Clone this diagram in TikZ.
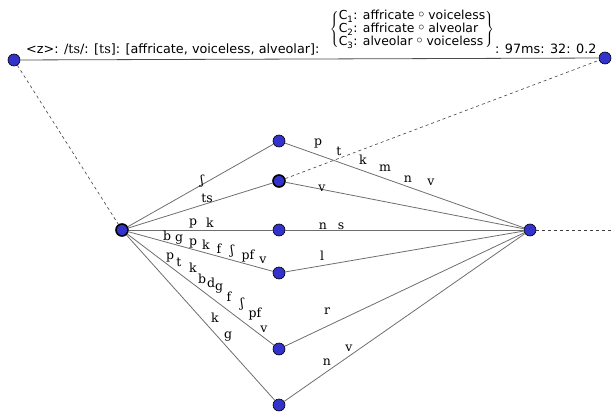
\documentclass[tikz,border=0pt]{standalone}
\usepackage{fontspec}
\setmainfont{DejaVu Sans}
\newfontfamily\lab{DejaVu Serif}
\definecolor{nodeblue}{RGB}{51,51,204}
\definecolor{edgegray}{RGB}{110,110,110}
\newcommand{\cmp}{\raisebox{2.5pt}{$\circ$}}
\begin{document}
\begin{tikzpicture}[x=1pt,y=-1pt,
  vtx/.style={circle,draw=black,fill=nodeblue,inner sep=0pt,minimum size=12pt,line width=0.6pt},
  heavy/.style={line width=1.6pt},
  edge/.style={draw=edgegray,line width=0.8pt},
  dsh/.style={draw=black!75,line width=0.6pt,dash pattern=on 3pt off 3pt},
  lbl/.style={font=\lab\fontsize{12.5}{12.5}\selectfont,inner sep=0pt},
  hdr/.style={font=\fontsize{12.8}{14}\selectfont,inner sep=0pt},
  blk/.style={font=\fontsize{12.4}{14}\selectfont,inner sep=0pt}
]
\useasboundingbox (0,0) rectangle (612,414);
% vertices
\node[vtx] (TL) at (14,60) {};
\node[vtx] (TR) at (605,58) {};
\node[vtx,heavy] (L) at (122,230) {};
\node[vtx] (M1) at (279,141) {};
\node[vtx,heavy] (M2) at (279,181) {};
\node[vtx] (M3) at (279,230) {};
\node[vtx] (M4) at (279,273) {};
\node[vtx] (M5) at (279,349) {};
\node[vtx] (M6) at (279,405) {};
\node[vtx] (R) at (530,230) {};
\coordinate (E) at (612,230);
% connectors
\draw[draw=black!70,line width=0.8pt] (TL) -- (TR);
\draw[dsh] (TL) -- (L);
\draw[dsh] (M2) -- (TR);
\draw[dsh] (R) -- (E);
\foreach \m in {M1,M2,M3,M4,M5,M6}{
  \draw[edge] (L) -- (\m);
  \draw[edge] (\m) -- (R);
}
% header text
\node[hdr,anchor=base west] (h1) at (26,54) {<z>: /{\lab ts}/: [{\lab ts}]: [affricate, voiceless, alveolar]:};
\node[blk,anchor=center] (h2) at (412,30) {\renewcommand{\arraystretch}{0.84}$\left\{\begin{array}{@{}l@{}}
\mbox{C\textsubscript{1}: affricate \cmp\ voiceless}\\
\mbox{C\textsubscript{2}: affricate \cmp\ alveolar}\\
\mbox{C\textsubscript{3}: alveolar \cmp\ voiceless}
\end{array}\right\}$};
\node[hdr,anchor=base west] (h3) at (495,54) {: 97ms: 32: 0.2};
% edge labels L-M1, L-M2, L-M3
\node[lbl] (a1) at (202,181) {ʃ};
\node[lbl] (a2) at (207,198) {ts};
\node[lbl] (a3) at (193,223) {p};
\node[lbl] (a4) at (210,223) {k};
% L-M4
\node[lbl] (b1) at (167,236) {b};
\node[lbl] (b2) at (179,240) {g};
\node[lbl] (b3) at (193,243) {p};
\node[lbl] (b4) at (206,245) {k};
\node[lbl] (b5) at (219,249) {f};
\node[lbl] (b6) at (232,251) {ʃ};
\node[lbl] (b7) at (248,256) {pf};
\node[lbl] (b8) at (263,260) {v};
% L-M5
\node[lbl] (c1) at (170,257) {p};
\node[lbl] (c2) at (179,262) {t};
\node[lbl] (c3) at (193,268) {k};
\node[lbl] (c4) at (202,279) {b};
\node[lbl] (c5) at (211,283) {d};
\node[lbl] (c6) at (219,289) {g};
\node[lbl] (c7) at (229,297) {f};
\node[lbl] (c8) at (242,304) {ʃ};
\node[lbl] (c9) at (255,314) {pf};
\node[lbl] (c10) at (264,329) {v};
% L-M6
\node[lbl] (d1) at (215,318) {k};
\node[lbl] (d2) at (228,337) {g};
% M1-R
\node[lbl] (e1) at (318,143) {p};
\node[lbl] (e2) at (339,151) {t};
\node[lbl] (e3) at (363,160) {k};
\node[lbl] (e4) at (385,168) {m};
\node[lbl] (e5) at (408,179) {n};
\node[lbl] (e6) at (431,182) {v};
% M2-R, M3-R, M4-R
\node[lbl] (f1) at (322,188) {v};
\node[lbl] (g1) at (323,226) {n};
\node[lbl] (g2) at (341,226) {s};
\node[lbl] (h4) at (322,256) {l};
% M5-R, M6-R
\node[lbl] (i1) at (327,311) {r};
\node[lbl] (j1) at (349,348) {v};
\node[lbl] (j2) at (327,362) {n};
\end{tikzpicture}
\end{document}
